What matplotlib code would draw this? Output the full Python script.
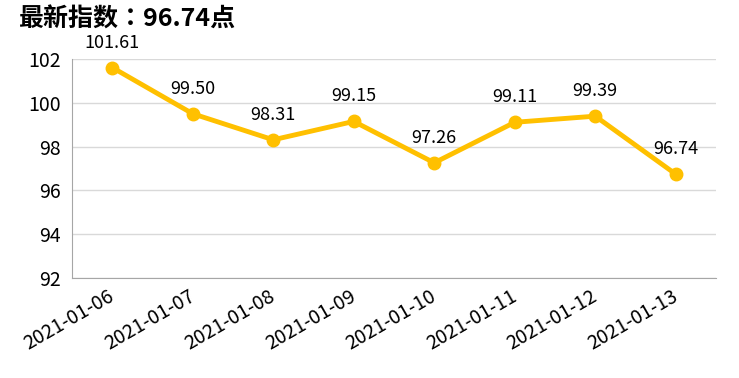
import matplotlib
matplotlib.use("Agg")
import matplotlib.pyplot as plt
from matplotlib.transforms import ScaledTranslation

plt.rcParams['font.family'] = ['Noto Sans CJK SC', 'DejaVu Sans']

dates = ["2021-01-06", "2021-01-07", "2021-01-08", "2021-01-09",
         "2021-01-10", "2021-01-11", "2021-01-12", "2021-01-13"]
values = [101.61, 99.50, 98.31, 99.15, 97.26, 99.11, 99.39, 96.74]
yticks = [92, 94, 96, 98, 100, 102]
title = "最新指数：96.74点"

fig = plt.figure(figsize=(7.39, 3.78), dpi=100)
ax = fig.add_axes([72/739, 1-278/378, (716-72)/739, (278-59)/378])

x = list(range(len(dates)))
ax.plot(x, values, color="#FFC000", linewidth=3.5, marker="o", markersize=9,
        zorder=3, clip_on=False)
for xi, v in zip(x, values):
    ax.annotate(f"{v:.2f}", (xi, v), xytext=(0, 18), textcoords="offset points",
                ha="center", va="center", fontsize=13, color="black")

ax.set_xlim(-0.5, len(dates) - 0.5)
ax.set_ylim(92, 102)
ax.set_yticks(yticks)
ax.set_yticklabels([str(t) for t in yticks], fontsize=14)
ax.set_xticks(x)
ax.set_xticklabels(dates, rotation=30, ha="right", rotation_mode="anchor", fontsize=14)
ax.tick_params(axis="y", length=0, pad=8)
ax.tick_params(axis="x", length=0, pad=6)
shift = ScaledTranslation(-5/100, 0, fig.dpi_scale_trans)
for lbl in ax.get_xticklabels():
    lbl.set_transform(lbl.get_transform() + shift)
ax.grid(axis="y", color="#D9D9D9", linewidth=1)
ax.set_axisbelow(True)
for s in ["top", "right"]:
    ax.spines[s].set_visible(False)
ax.spines["left"].set_color("#A6A6A6")
ax.spines["bottom"].set_color("#A6A6A6")

fig.text(18/739, 1-20/378, title, fontsize=18, fontweight="bold", ha="left", va="center",
         family=["Noto Sans CJK TC", "DejaVu Sans"])

fig.savefig("out.png", dpi=100)
